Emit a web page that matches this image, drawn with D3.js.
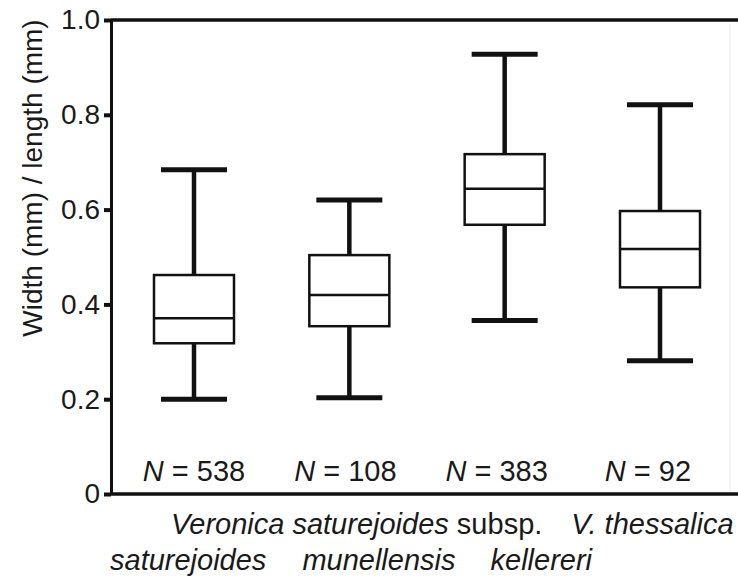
<!DOCTYPE html>
<html>
<head>
<meta charset="utf-8">
<script src="https://cdn.jsdelivr.net/npm/d3@7/dist/d3.min.js"></script>
<style>
  html, body { margin: 0; padding: 0; background: #fff; }
  svg { display: block; font-family: "Liberation Sans", Arial, sans-serif; }
</style>
</head>
<body>
<div id="chart"></div>
<script>
// Leaf shape index (width / length) per taxon
const taxa        = ["saturejoides", "munellensis", "kellereri", "thessalica"];
const whiskerLow  = [0.200, 0.203, 0.366, 0.281];
const quartile1   = [0.318, 0.354, 0.568, 0.436];
const medians     = [0.371, 0.420, 0.644, 0.517];
const quartile3   = [0.462, 0.504, 0.717, 0.597];
const whiskerHigh = [0.684, 0.620, 0.928, 0.821];
const sampleSizes = [538, 108, 383, 92];
const yTicks      = [0, 0.2, 0.4, 0.6, 0.8, 1.0];
const yTickLabels = ["0", "0.2", "0.4", "0.6", "0.8", "1.0"];

const W = 738, H = 580;
const plotLeft = 111, plotRight = 738, plotTop = 20, plotBottom = 494;
const ink = "#111";

const svg = d3.select("#chart").append("svg")
  .attr("width", W).attr("height", H);

const y = d3.scaleLinear().domain([0, 1]).range([plotBottom, plotTop]);
const x = d3.scalePoint().domain(taxa).range([194, 660]);
const nX = d3.scalePoint().domain(taxa).range([194, 648]);

const boxW = 80, capW = 66;

// faint frame edge on the right
svg.append("line")
  .attr("x1", 730).attr("x2", 730).attr("y1", plotTop + 4).attr("y2", plotBottom - 2)
  .attr("stroke", "#ececec").attr("stroke-width", 1);

// top border
svg.append("line")
  .attr("x1", plotLeft).attr("x2", plotRight).attr("y1", y(1)).attr("y2", y(1))
  .attr("stroke", ink).attr("stroke-width", 3.5);

// x baseline
svg.append("line")
  .attr("x1", plotLeft).attr("x2", plotRight).attr("y1", y(0)).attr("y2", y(0))
  .attr("stroke", ink).attr("stroke-width", 3.5);

// y axis
const yAxis = d3.axisLeft(y)
  .tickValues(yTicks)
  .tickFormat((d, i) => yTickLabels[i])
  .tickSize(7)
  .tickSizeOuter(0)
  .tickPadding(4);

const gy = svg.append("g").attr("transform", `translate(${plotLeft},0)`).call(yAxis);
gy.select(".domain").attr("stroke", ink).attr("stroke-width", 3);
gy.selectAll(".tick line").attr("stroke", ink).attr("stroke-width", 4);
gy.selectAll(".tick text")
  .attr("fill", "#1a1a1a")
  .style("font-size", "28px")
  .style("font-family", "'Liberation Sans', Arial, sans-serif");

// axis title
svg.append("text")
  .attr("transform", "translate(42,178) rotate(-90)")
  .attr("text-anchor", "middle")
  .attr("fill", "#1a1a1a")
  .style("font-size", "28px")
  .text("Width (mm) / length (mm)");

// box plots
const boxes = taxa.map((t, i) => ({
  taxon: t, lo: whiskerLow[i], q1: quartile1[i], med: medians[i],
  q3: quartile3[i], hi: whiskerHigh[i], n: sampleSizes[i]
}));

const g = svg.append("g").selectAll("g").data(boxes).join("g");

// whisker stems
g.append("line")
  .attr("x1", d => x(d.taxon)).attr("x2", d => x(d.taxon))
  .attr("y1", d => y(d.hi)).attr("y2", d => y(d.q3))
  .attr("stroke", ink).attr("stroke-width", 4.5);
g.append("line")
  .attr("x1", d => x(d.taxon)).attr("x2", d => x(d.taxon))
  .attr("y1", d => y(d.q1)).attr("y2", d => y(d.lo))
  .attr("stroke", ink).attr("stroke-width", 4.5);

// whisker caps
g.append("line")
  .attr("x1", d => x(d.taxon) - capW / 2).attr("x2", d => x(d.taxon) + capW / 2)
  .attr("y1", d => y(d.hi)).attr("y2", d => y(d.hi))
  .attr("stroke", ink).attr("stroke-width", 5);
g.append("line")
  .attr("x1", d => x(d.taxon) - capW / 2).attr("x2", d => x(d.taxon) + capW / 2)
  .attr("y1", d => y(d.lo)).attr("y2", d => y(d.lo))
  .attr("stroke", ink).attr("stroke-width", 5);

// interquartile box
g.append("rect")
  .attr("x", d => x(d.taxon) - boxW / 2)
  .attr("width", boxW)
  .attr("y", d => y(d.q3))
  .attr("height", d => y(d.q1) - y(d.q3))
  .attr("fill", "#fff")
  .attr("stroke", ink).attr("stroke-width", 2.5);

// median
g.append("line")
  .attr("x1", d => x(d.taxon) - boxW / 2).attr("x2", d => x(d.taxon) + boxW / 2)
  .attr("y1", d => y(d.med)).attr("y2", d => y(d.med))
  .attr("stroke", ink).attr("stroke-width", 2.5);

// sample sizes
const nt = svg.append("g").selectAll("text").data(boxes).join("text")
  .attr("x", d => nX(d.taxon))
  .attr("y", 481)
  .attr("text-anchor", "middle")
  .attr("fill", "#1a1a1a")
  .style("font-size", "29px");
nt.append("tspan").style("font-style", "italic").text("N");
nt.append("tspan").text(d => " = " + d.n);

// category names, first line
const l1 = svg.append("text")
  .attr("x", 171).attr("y", 534)
  .attr("fill", "#1a1a1a")
  .style("font-size", "29px");
l1.append("tspan").style("font-style", "italic").text("Veronica saturejoides");
l1.append("tspan").text(" subsp.");
l1.append("tspan").attr("dx", 29).style("font-style", "italic").text("V. thessalica");

// category names, second line
const l2 = svg.append("text")
  .attr("x", 110).attr("y", 570)
  .attr("fill", "#1a1a1a")
  .style("font-size", "29px")
  .style("font-style", "italic");
l2.append("tspan").text("saturejoides");
l2.append("tspan").attr("dx", 36).text("munellensis");
l2.append("tspan").attr("dx", 35).text("kellereri");
</script>
</body>
</html>
